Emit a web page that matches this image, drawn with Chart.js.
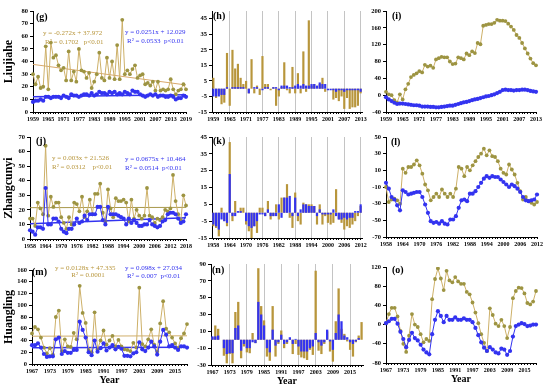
<!DOCTYPE html>
<html>
<head>
<meta charset="utf-8">
<script src="https://cdn.jsdelivr.net/npm/chart.js@4.4.0/dist/chart.umd.min.js"></script>
<style>
  body { margin: 0; background: #fff; }
  #wrap { position: relative; width: 550px; height: 387px; overflow: hidden; }
  .panel { position: absolute; }
</style>
</head>
<body>
<div id="wrap"></div>
<script>
const FONT = "'Liberation Serif', 'Times New Roman', serif";
const GOLD = '#9d9442';
const GOLD_LINE = '#cdb068';
const GOLD_BAR = '#b8963c';
const BLUE = '#3333f0';

function years(from, to) {
  const out = [];
  for (let y = from; y <= to; y++) out.push(String(y));
  return out;
}

// Liujiahe
const yearsG = years(1959, 2019);
const gGold = [30, 22, 28, 19, 20, 52, 18, 55, 43, 45,
  37, 33, 35, 25, 48, 25, 32, 24, 50, 33,
  32, 27, 31, 19, 24, 30, 47, 27, 25, 43,
  27, 40, 26, 53, 26, 73, 30, 33, 30, 34,
  37, 27, 29, 30, 22, 23, 21, 24, 17, 24,
  17, 18, 17, 18, 26, 18, 14, 17, 18, 22, 18];
const gBlue = [8, 9, 9, 10, 9, 12, 12, 11, 12, 12,
  12, 11, 13, 12, 11, 14, 13, 13, 12, 13,
  14, 14, 13, 15, 13, 14, 16, 15, 15, 14,
  16, 15, 16, 14, 15, 14, 16, 15, 14, 17,
  16, 16, 14, 13, 12, 13, 14, 13, 14, 12,
  13, 13, 12, 12, 13, 12, 10, 11, 11, 13, 12];
const gGoldTrend = [37.7, 21.4];
const gBlueTrend = [12.1, 13.6];

const yearsH = years(1959, 2013);
const hGold = [7, -6, -3, -10, -9, 23, -11, 25, 13, 16,
  7, 3, 5, -3, 19, -3, 2, -4, 21, 3,
  3, -1, 1, -11, -5, 1, 17, -1, -3, 14,
  -3, 10, -3, 24, -2, 44, 2, 3, 0, 3,
  7, -2, 0, 0, -7, -6, -8, -5, -13, -6,
  -13, -12, -12, -11, -3];
const hBlue = [-5, -5, -5, -4, -4, 1, 0, 1, 1, 1,
  1, 1, 0, -3, 0, 1, 1, 0, -1, 1,
  1, 0, 1, 1, -1, 2, 2, 2, 1, 1,
  2, 3, 2, 3, 2, 2, 3, 3, 2, 4,
  3, 3, -1, -1, -1, -2, -1, -1, -2, -1,
  -1, -1, -1, -1, -2];

const iGold = [8, 2, 0, -12, -18, 2, -10, 14, 27, 43,
  48, 52, 57, 54, 72, 68, 70, 65, 85, 88,
  91, 90, 90, 80, 74, 75, 90, 88, 85, 99,
  95, 104, 100, 124, 121,
  165, 167, 169, 169, 172, 179, 177, 177, 176, 170,
  163, 155, 143, 136, 124, 111, 99, 87, 76, 71];
const iBlue = [-5, -10, -14, -18, -21, -20, -20, -21, -22, -23,
  -24, -24, -25, -27, -27, -27, -28, -28, -29, -29,
  -28, -27, -26, -25, -25, -23, -21, -19, -17, -16,
  -14, -12, -10, -9, -7, -5, -3, -2, 0, 2,
  5, 8, 12, 13, 12, 12, 11, 12, 12, 13,
  13, 12, 10, 9, 8];

// Zhangcunyi
const yearsJ = years(1958, 2018);
const jGold = [14, 14, 9, 25, 21, 17, 64, 16, 29, 22,
  25, 25, 15, 11, 7, 15, 10, 25, 24, 19,
  29, 15, 19, 27, 17, 31, 31, 38, 18, 12,
  34, 21, 15, 28, 26, 26, 27, 25, 12, 27,
  14, 20, 16, 14, 16, 35, 16, 15, 11, 14,
  13, 15, 20, 19, 21, 44, 26, 17, 13, 30, 23];
const jBlue = [6, 5, 3, 8, 8, 7, 35, 10, 10, 14,
  14, 12, 7, 5, 4, 7, 7, 10, 14, 11,
  12, 16, 13, 17, 17, 17, 22, 22, 13, 10,
  22, 17, 17, 17, 16, 15, 14, 10, 14, 11,
  13, 11, 9, 9, 10, 10, 13, 10, 9, 8,
  9, 12, 13, 17, 18, 18, 17, 14, 11, 12, 17];
const jGoldTrend = [21.5, 21.7];
const jBlueTrend = [10.5, 14.6];

const yearsK = years(1958, 2012);
const kGold = [-8, -9, -14, 3, -5, -8, 42, -5, 7, 0,
  3, 3, -7, -11, -15, -8, -12, 3, 3, -2,
  7, -4, -2, 5, -4, 9, 9, 17, -3, -9,
  12, -5, -7, 6, 5, 5, 5, 4, -7, 5,
  -7, -2, -6, -7, -6, 14, -4, -6, -10, -8,
  -9, -7, -5, -2, 4];
const kBlue = [-7, -8, -10, -4, -5, -6, 23, -2, -2, 1,
  1, 0, -5, -8, -9, -8, -5, -1, -1, -2,
  2, -2, -2, -2, 5, -3, 9, 9, 10, -2,
  9, -2, 2, 5, 5, 4, 4, 4, -2, 2,
  -1, -1, -1, -1, 2, -2, -4, -4, -3, -4,
  -3, -3, 1, 1, 5];

const lGold = [-10, -28, -25, -24, -26, -30, 12, 7, 14, 14,
  17, 22, 16, 6, -7, -14, -26, -22, -18, -22,
  -13, -18, -22, -18, -22, -12, 14, 12, 3, 14,
  10, 16, 21, 26, 30, 36, 28, 34, 27, 26,
  21, 12, 7, 5, 17, 11, 5, -5, -15, -25,
  -22, -27, -29, -31, -28];
const lBlue = [-5, -12, -22, -25, -32, -38, -14, -16, -19, -18,
  -17, -16, -16, -22, -31, -41, -51, -53, -52, -54,
  -51, -54, -55, -49, -49, -45, -35, -26, -25, -27,
  -18, -18, -15, -10, -5, 0, 3, 1, 3, 2,
  2, -1, -4, -7, -10, -7, -9, -12, -16, -22,
  -26, -27, -26, -25, -19];

// Huangling
const yearsM = years(1967, 2019);
const mGold = [52, 63, 59, 45, 28, 18, 27, 16, 80, 91,
  22, 42, 30, 29, 53, 42, 133, 87, 70, 24,
  20, 88, 25, 40, 57, 33, 40, 48, 30, 41,
  30, 25, 24, 22, 36, 28, 130, 34, 30, 42,
  59, 33, 21, 69, 107, 60, 54, 45, 35, 27,
  44, 52, 68];
const mBlue = [32, 32, 35, 28, 17, 12, 13, 13, 42, 45,
  17, 22, 19, 19, 24, 24, 72, 58, 45, 20,
  15, 40, 21, 27, 35, 23, 28, 32, 25, 29,
  26, 14, 14, 13, 18, 20, 37, 25, 22, 28,
  38, 30, 16, 38, 58, 50, 30, 32, 28, 24,
  30, 30, 28];
const mGoldTrend = [47.3, 48.0];
const mBlueTrend = [27.5, 28.5];

const nGold = [3, 17, 13, 0, -19, -28, -17, -28, 33, 45,
  -22, -8, -15, -16, 8, -4, 85, 40, 23, -20,
  -25, 40, -20, -5, 11, -10, -5, 1, -17, -5,
  -18, -21, -22, -24, -12, -18, 82, -13, -17, -5,
  10, -14, -26, 22, 61, 13, 7, -2, -12, -20,
  -3, 5, 21];
const nBlue = [4, 4, 5, 0, -10, -17, -16, -16, 14, 17,
  -13, -5, -10, -10, -3, -4, 45, 30, 17, -10,
  -15, 12, -7, -3, 6, -5, -3, 3, -5, 1,
  -8, -14, -14, -14, -10, -8, 8, -3, -7, -3,
  12, -2, -12, 8, 30, 22, 5, 3, -3, -5,
  -2, 2, 0];

const oGold = [3, 22, 35, 35, 17, -13, -40, -57, -23, 22,
  0, -5, -20, -37, -30, -34, 53, 95, 117, 96,
  72, 112, 92, 88, 99, 90, 85, 85, 68, 63,
  46, 25, 3, -20, -38, -55, 34, 20, 2, -3,
  10, -3, -28, -5, 55, 70, 77, 76, 65, 45,
  42, 48, 70];
const oBlue = [3, 7, 12, 12, 2, -15, -30, -47, -32, -17,
  -28, -33, -42, -52, -58, -62, -20, 10, 28, 18,
  5, 18, 10, 10, 15, 10, 10, 13, 10, 10,
  5, -7, -22, -37, -48, -55, -47, -52, -58, -60,
  -50, -52, -63, -55, -25, -3, 0, 3, 1, -3,
  -2, 0, 0];

// tick labels
const ticksG = [0, 10, 20, 30, 40, 50, 60, 70, 80];
const ticksH = [-15, -5, 5, 15, 25, 35, 45];
const ticksI = [-40, 0, 40, 80, 120, 160, 200];
const ticksJ = [0, 10, 20, 30, 40, 50, 60, 70];
const ticksK = [-15, -5, 5, 15, 25, 35, 45];
const ticksL = [-70, -50, -30, -10, 10, 30, 50];
const ticksM = [0, 20, 40, 60, 80, 100, 120, 140, 160];
const ticksN = [-30, -10, 10, 30, 50, 70, 90];
const ticksO = [-80, -40, 0, 40, 80, 120];

const notesPlugin = {
  id: 'notes',
  defaults: { items: [] },
  afterDraw(chart, args, opts) {
    const { ctx, chartArea } = chart;
    opts.items.forEach(it => {
      ctx.save();
      ctx.font = (it.bold ? 'bold ' : '') + it.size + 'px ' + FONT;
      ctx.fillStyle = it.color || '#000';
      ctx.textBaseline = 'middle';
      ctx.textAlign = it.align || 'left';
      ctx.fillText(it.text, chartArea.left + it.x, chartArea.top + it.y);
      ctx.restore();
    });
  }
};
Chart.register(notesPlugin);

function tag(text, x, y) {
  return { text: text, x: x, y: y, size: 10, bold: true, color: '#000' };
}
function eq(text, x, y, color, align) {
  return { text: text, x: x, y: y, size: 7, color: color, align: align };
}

function lineSet(data, kind) {
  const gold = kind === 'gold';
  return {
    data: data,
    borderColor: gold ? GOLD_LINE : BLUE,
    borderWidth: 1,
    pointRadius: gold ? 1.9 : 2.1,
    pointBackgroundColor: gold ? GOLD : BLUE,
    pointBorderWidth: 0,
    tension: 0
  };
}
function trendSet(labels, vals, color, width) {
  return {
    data: [{ x: labels[0], y: vals[0] }, { x: labels[labels.length - 1], y: vals[1] }],
    borderColor: color,
    borderWidth: width,
    pointRadius: 0
  };
}
function barSets(blue, gold) {
  // blue first so it is drawn on top of the gold bars
  return [
    { data: blue, backgroundColor: BLUE, barPercentage: 0.8, categoryPercentage: 1 },
    { data: gold, backgroundColor: GOLD_BAR, barPercentage: 0.8, categoryPercentage: 1 }
  ];
}

function makeChart(p) {
  const padTop = p.padTop || 8, padRight = 8;
  const [l, t, r, b] = p.plot;
  const div = document.createElement('div');
  div.className = 'panel';
  div.style.left = (l - p.yw) + 'px';
  div.style.top = (t - padTop) + 'px';
  div.style.width = (r - l + p.yw + padRight) + 'px';
  div.style.height = (b - t + padTop + p.xh) + 'px';
  const cv = document.createElement('canvas');
  div.appendChild(cv);
  document.getElementById('wrap').appendChild(div);
  const isBar = p.type === 'bar';

  new Chart(cv, {
    type: p.type,
    data: { labels: p.labels, datasets: p.datasets },
    options: {
      responsive: true,
      maintainAspectRatio: false,
      animation: false,
      layout: { padding: { top: padTop, right: padRight, left: 0, bottom: 0 } },
      plugins: {
        legend: { display: false },
        tooltip: { enabled: false },
        notes: { items: p.notes }
      },
      scales: {
        x: {
          stacked: isBar,
          offset: isBar,
          border: { display: true, color: '#000', width: 1 },
          grid: {
            drawOnChartArea: isBar,
            offset: false,
            tickLength: 2,
            tickColor: '#000',
            color: c => (isBar && c.index % 6 === 0 && c.index > 0) ? '#c4c4c4' : 'rgba(0,0,0,0)'
          },
          ticks: {
            autoSkip: false, maxRotation: 0, minRotation: 0, padding: 2, color: '#000',
            font: { family: FONT, size: 6, weight: 'bold' },
            callback: function (v, i) { return i % 6 === 0 ? this.getLabelForValue(v) : ''; }
          },
          title: p.xTitle
            ? { display: true, text: p.xTitle, color: '#000', padding: 0, font: { family: FONT, size: 10, weight: 'bold' } }
            : { display: false },
          afterFit: s => { s.height = p.xh; s.paddingLeft = 0; s.paddingRight = 0; }
        },
        y: {
          min: p.ticks[0],
          max: p.yMax !== undefined ? p.yMax : p.ticks[p.ticks.length - 1],
          border: { display: true, color: '#000', width: 1 },
          grid: { drawOnChartArea: false, color: '#000', tickLength: 3 },
          ticks: { padding: 2, color: '#000', font: { family: FONT, size: 6.5, weight: 'bold' } },
          afterBuildTicks: s => { s.ticks = p.ticks.map(v => ({ value: v })); },
          title: p.yTitle
            ? { display: true, text: p.yTitle, color: '#000', padding: { top: 2, bottom: 0 }, font: { family: FONT, size: 12, weight: 'bold' } }
            : { display: false },
          afterFit: s => { s.width = p.yw; }
        }
      }
    }
  });
}

// row 1
makeChart({
  type: 'line', plot: [33, 11, 186, 112], yw: 33, xh: 14, labels: yearsG, ticks: ticksG, yTitle: 'Liujiahe',
  datasets: [
    lineSet(gBlue, 'blue'), lineSet(gGold, 'gold'),
    trendSet(yearsG, gGoldTrend, '#d8a86c', 1), trendSet(yearsG, gBlueTrend, BLUE, 1.5)
  ],
  notes: [
    tag('(g)', 3, 6),
    eq('y = -0.272x + 37.972', 10, 22, GOLD_BAR), eq('R\u00b2 = 0.1702   p<0.01', 12, 31, GOLD_BAR),
    eq('y = 0.0251x + 12.029', 92, 21, BLUE), eq('R\u00b2 = 0.0533  p<0.01', 94, 30, BLUE)
  ]
});
makeChart({
  type: 'bar', plot: [212, 11, 362, 112], yw: 24, xh: 14, labels: yearsH, ticks: ticksH, yMax: 50,
  datasets: barSets(hBlue, hGold),
  notes: [tag('(h)', 1, 5)]
});
makeChart({
  type: 'line', plot: [386, 11, 536, 112], yw: 24, xh: 14, labels: yearsH, ticks: ticksI,
  datasets: [lineSet(iBlue, 'blue'), lineSet(iGold, 'gold')],
  notes: [tag('(i)', 6, 5)]
});

// row 2
makeChart({
  type: 'line', plot: [30, 137, 186, 239], yw: 30, xh: 14, labels: yearsJ, ticks: ticksJ, yTitle: 'Zhangcunyi',
  datasets: [
    lineSet(jBlue, 'blue'), lineSet(jGold, 'gold'),
    trendSet(yearsJ, jGoldTrend, '#a8984a', 1), trendSet(yearsJ, jBlueTrend, BLUE, 1.5)
  ],
  notes: [
    tag('(j)', 6, 4),
    eq('y = 0.003x + 21.526', 22, 21, GOLD_BAR), eq('R\u00b2 = 0.0312    p<0.01', 22, 30, GOLD_BAR),
    eq('y = 0.0675x + 10.464', 95, 22, BLUE), eq('R\u00b2 = 0.0514  p<0.01', 95, 31, BLUE)
  ]
});
makeChart({
  type: 'bar', plot: [212, 137, 362, 238], yw: 24, xh: 14, labels: yearsK, ticks: ticksK,
  datasets: barSets(kBlue, kGold),
  notes: [tag('(k)', 1, 4)]
});
makeChart({
  type: 'line', plot: [386, 137, 537, 237], yw: 24, xh: 14, labels: yearsK, ticks: ticksL,
  datasets: [lineSet(lBlue, 'blue'), lineSet(lGold, 'gold')],
  notes: [tag('(l)', 5, 5)]
});

// row 3
makeChart({
  type: 'line', plot: [32, 270, 187, 364], yw: 32, xh: 22, padTop: 12, labels: yearsM, ticks: ticksM,
  yTitle: 'Huangling', xTitle: 'Year',
  datasets: [
    lineSet(mBlue, 'blue'), lineSet(mGold, 'gold'),
    trendSet(yearsM, mGoldTrend, '#d0ae6a', 1), trendSet(yearsM, mBlueTrend, BLUE, 1.5)
  ],
  notes: [
    tag('(m)', 0, 2),
    eq('y = 0.0128x + 47.335', 23, -2, GOLD_BAR), eq('R\u00b2 = 0.0001', 56, 5, GOLD_BAR, 'center'),
    eq('y = 0.098x + 27.034', 93, -2, BLUE), eq('R\u00b2 = 0.007  p<0.01', 95, 6, BLUE)
  ]
});
makeChart({
  type: 'bar', plot: [211, 264, 363, 365], yw: 24, xh: 22, labels: yearsM, ticks: ticksN, xTitle: 'Year',
  datasets: barSets(nBlue, nGold),
  notes: [tag('(n)', 1, 6)]
});
makeChart({
  type: 'line', plot: [386, 267, 536, 363], yw: 24, xh: 22, labels: yearsM, ticks: ticksO, xTitle: 'Year',
  datasets: [lineSet(oBlue, 'blue'), lineSet(oGold, 'gold')],
  notes: [tag('(o)', 6, 3)]
});
</script>
</body>
</html>
